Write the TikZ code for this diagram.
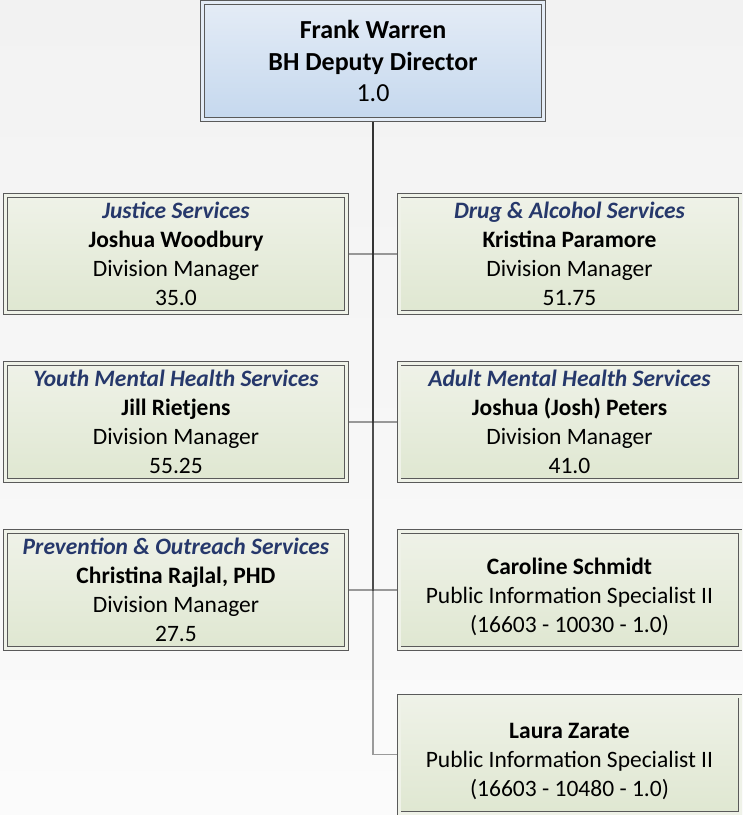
\documentclass[tikz,border=0pt]{standalone}
\usepackage{fontspec}
\setmainfont{Carlito}
\usepackage{tikz}
\usetikzlibrary{positioning,backgrounds}

\definecolor{pagetop}{HTML}{F2F2F2}
\definecolor{pagebot}{HTML}{FBFBFB}
\definecolor{unittop}{HTML}{EFF2E8}
\definecolor{unitbot}{HTML}{DFE7D1}
\definecolor{chieftop}{HTML}{E4ECF6}
\definecolor{chiefbot}{HTML}{C5D8EE}
\definecolor{frame}{HTML}{5A5A5A}
\definecolor{wire}{HTML}{323232}
\definecolor{unitname}{HTML}{26386B}

\tikzset{
  box/.style={rectangle,draw=frame,line width=0.8pt,double distance=3pt,
    minimum width=341pt,minimum height=117pt,align=center,inner sep=0pt},
  unit/.style={box,top color=unittop,bottom color=unitbot,double=unittop,
    font=\fontsize{23.5}{29}\selectfont},
  chief/.style={box,top color=chieftop,bottom color=chiefbot,double=chieftop,
    font=\fontsize{26}{31.5}\selectfont},
  wire/.style={draw=wire,draw opacity=0.48,line width=1.5pt},
  branch/.style={to path={|- (\tikztotarget)}}
}
\newcommand{\dept}[1]{{\color{unitname}\bfseries\itshape #1}}
\newcommand{\lift}{\rule{0pt}{30pt}}

\begin{document}
\begin{tikzpicture}[x=1pt,y=-1pt,node distance=168pt]
  \useasboundingbox (0,0) rectangle (743,815);
  \node[chief] (FW) at (373,61) {\textbf{Frank Warren}\\\textbf{BH Deputy Director}\\1.0};
  \node[unit] (JW) at (176,254) {\dept{Justice Services}\\\textbf{Joshua Woodbury}\\Division Manager\\35.0};
  \node[unit] (KP) [right of=JW,node distance=393.5pt] {\dept{Drug \& Alcohol Services}\\\textbf{Kristina Paramore}\\Division Manager\\51.75};
  \node[unit] (JR) [below of=JW] {\dept{Youth Mental Health Services}\\\textbf{Jill Rietjens}\\Division Manager\\55.25};
  \node[unit] (JP) [below of=KP] {\dept{Adult Mental Health Services}\\\textbf{Joshua (Josh) Peters}\\Division Manager\\41.0};
  \node[unit] (CR) [below of=JR] {\dept{Prevention \& Outreach Services}\\\textbf{Christina Rajlal, PHD}\\Division Manager\\27.5};
  \node[unit] (CS) [below of=JP] {\lift\textbf{Caroline Schmidt}\\Public Information Specialist II\\(16603 - 10030 - 1.0)};
  \node[unit] (LZ) [below of=CS,node distance=164.5pt] {\lift\textbf{Laura Zarate}\\Public Information Specialist II\\(16603 - 10480 - 1.0)};
  \begin{scope}[on background layer]
    \fill[top color=pagetop,bottom color=pagebot] (0,0) rectangle (743,815);
    \path[wire]
     (FW.south) edge[branch] (JW.east)
     (FW.south) edge[branch] (KP.west)
     (FW.south) edge[branch] (JR.east)
     (FW.south) edge[branch] (JP.west)
     (FW.south) edge[branch] (CR.east)
     (FW.south) edge[branch] (CS.west)
     (FW.south) edge[branch] (LZ.west);
  \end{scope}
\end{tikzpicture}
\end{document}
